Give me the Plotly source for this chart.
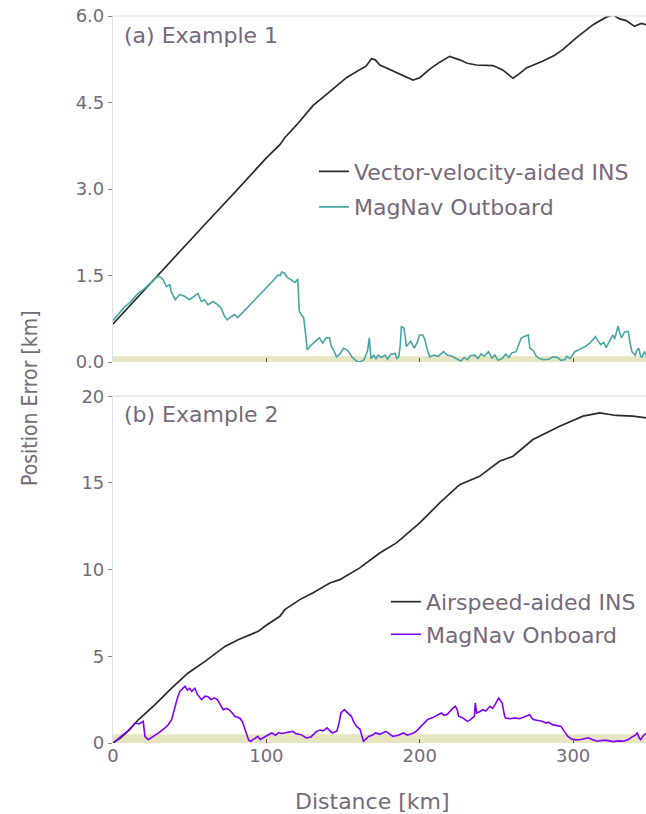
import plotly.graph_objects as go

# ---------------- data ----------------
ins1_x = [0, 20, 40, 60, 80, 100, 108.8, 112, 120, 130.5, 140, 152.2, 160.9, 165, 168.5, 171, 174,
          178.3, 187, 195.6, 200, 206.5, 213, 219.5, 226, 231, 236.9, 247.8, 254.3, 260.8, 265, 269.5,
          280.3, 288, 293.4, 302, 313, 321.6, 326, 330.3, 334.6, 340, 344.4, 347.5]
ins1_y = [0.66, 1.24, 1.81, 2.39, 2.96, 3.54, 3.77, 3.89, 4.12, 4.45, 4.66, 4.93, 5.07, 5.13, 5.26, 5.24, 5.15,
          5.10, 5.00, 4.89, 4.93, 5.08, 5.20, 5.30, 5.24, 5.18, 5.15, 5.14, 5.06, 4.92, 5.00, 5.10,
          5.22, 5.32, 5.42, 5.62, 5.85, 5.98, 6.02, 5.95, 5.92, 5.82, 5.87, 5.85]

mag1_x = [0, 1.2, 4, 7.7, 11, 16.3, 20, 24, 29.3, 31, 32.6, 34.8, 37, 38, 40.6, 43.4, 46.7, 49.9, 53.2,
          55.4, 57.6, 59.7, 61.9, 65.2, 68.4, 70.6, 72.8, 74.6, 77.2, 79.3, 81.3, 85, 90, 95, 100, 104,
          107.7, 109, 110, 111.9, 113.5, 115.3, 118.7, 120.5, 121.4, 122.7, 124.3, 125.5, 126.6, 129, 132,
          134.5, 136.7, 139, 141.2, 142.3, 144, 145.7, 148, 150.2, 152, 153.6, 156, 159.2, 161, 163.7, 166,
          167.1, 168.2, 170, 171.5, 172.7, 175, 177.3, 179, 181, 184, 185, 186.3, 187.3, 188, 189.6, 190.5,
          191.2, 194.1, 196.4, 198.5, 199.8, 202, 203.5, 204.3, 206.5, 209, 212, 215.5, 218, 221, 224,
          226.8, 229, 231, 233, 235.8, 238, 240, 242, 244.8, 247, 249, 251, 253.8, 256, 258, 260, 262.8,
          264.5, 266.2, 270.7, 271.8, 274, 276, 278, 280.9, 284, 287, 289.9, 292, 294.4, 296, 298, 301.1,
          304, 307.9, 311, 314.6, 316.5, 318, 320, 321.5, 323.6, 325.9, 327, 329.3, 330.5, 331.5, 333.5,
          336, 337, 338.3, 340.5, 341.5, 342.8, 344, 345, 346.5, 347.5]
mag1_y = [0.72, 0.76, 0.85, 0.96, 1.03, 1.19, 1.26, 1.36, 1.49, 1.47, 1.43, 1.31, 1.34, 1.22, 1.08, 1.17,
          1.14, 1.08, 1.14, 1.19, 1.05, 1.08, 0.99, 1.05, 0.99, 0.93, 0.79, 0.73, 0.79, 0.82, 0.77, 0.87,
          1.01, 1.15, 1.29, 1.40, 1.51, 1.50, 1.56, 1.54, 1.47, 1.44, 1.38, 1.44, 0.89, 0.82, 0.77, 0.50,
          0.21, 0.29, 0.36, 0.42, 0.33, 0.42, 0.42, 0.27, 0.20, 0.09, 0.14, 0.24, 0.22, 0.18, 0.08, 0.01,
          0.00, 0.04, 0.20, 0.42, 0.06, 0.12, 0.05, 0.12, 0.08, 0.12, 0.05, 0.13, 0.15, 0.06, 0.09, 0.30,
          0.62, 0.59, 0.45, 0.27, 0.36, 0.24, 0.35, 0.47, 0.47, 0.38, 0.27, 0.09, 0.12, 0.10, 0.18, 0.12,
          0.10, 0.06, 0.02, 0.08, 0.04, 0.11, 0.12, 0.06, 0.14, 0.10, 0.18, 0.07, 0.12, 0.03, 0.06, 0.14,
          0.08, 0.16, 0.18, 0.30, 0.42, 0.47, 0.24, 0.20, 0.10, 0.06, 0.04, 0.05, 0.09, 0.08, 0.03, 0.04,
          0.10, 0.06, 0.18, 0.22, 0.27, 0.33, 0.44, 0.35, 0.30, 0.34, 0.25, 0.36, 0.47, 0.40, 0.62, 0.50,
          0.42, 0.52, 0.53, 0.35, 0.18, 0.12, 0.20, 0.24, 0.10, 0.09, 0.18, 0.12]

ins2_x = [0, 5, 10, 16.5, 27.4, 38.2, 49, 60, 73, 81.6, 94.7, 99, 108.8, 112, 121.8, 130.5, 141.4, 147.9,
          160.9, 173.9, 184.8, 200, 213, 226, 239, 252, 260.8, 273.8, 291.2, 306.4, 317.3, 328, 339, 347.5]
ins2_y = [0.0, 0.3, 0.7, 1.34, 2.21, 3.17, 4.04, 4.71, 5.57, 5.96, 6.44, 6.73, 7.31, 7.69, 8.27, 8.66, 9.23,
          9.42, 10.1, 10.96, 11.54, 12.69, 13.85, 14.9, 15.38, 16.25, 16.54, 17.5, 18.27, 18.85, 19.04,
          18.89, 18.85, 18.75]

mag2_x = [0, 3, 6, 9, 12, 14.3, 17, 19.7, 20.3, 20.8, 23, 25, 27.4, 30, 33.9, 36, 38.2, 40.4, 42, 43.6, 45,
          46.9, 48.5, 50, 51.3, 53.4, 55, 57.8, 60, 62, 64, 66, 68, 69.7, 71.9, 74, 76, 78, 79.5, 81, 83,
          84.5, 86, 88.5, 89.8, 92, 94.4, 96, 98, 100, 103.4, 106, 108, 110, 113, 117, 119, 122.6, 126,
          129, 132.8, 135, 137, 139.5, 142.9, 146, 147.5, 148.6, 150.8, 153, 155.4, 157, 158.8, 161, 162.3,
          163.3, 166.7, 169, 171.2, 174, 177.9, 180, 182.5, 186, 189.3, 192, 196, 198, 200, 203, 205, 208,
          211, 214.1, 216, 218, 221, 223.2, 224.5, 225.4, 228, 231, 233, 235.6, 236.2, 237.1, 239, 241.2,
          243, 245.8, 247.5, 249, 251.4, 253, 253.7, 255.2, 255.9, 259, 262, 265, 268, 271.7, 273, 274,
          277, 279.7, 282.5, 284, 286.4, 289, 292.1, 294, 296.6, 298.9, 302, 305, 308, 310, 313, 315.8,
          319, 322, 326, 330, 333, 336, 338.4, 340.5, 341.8, 343, 344, 346, 347.5]
mag2_y = [0.0, 0.2, 0.45, 0.65, 0.9, 1.15, 1.1, 1.25, 0.8, 0.38, 0.19, 0.3, 0.48, 0.6, 0.87, 1.05, 1.34,
          2.11, 2.6, 2.98, 3.1, 3.27, 3.05, 3.15, 2.98, 3.15, 2.8, 2.5, 2.7, 2.67, 2.5, 2.6, 2.5, 2.21, 1.92,
          2.0, 1.9, 1.7, 1.53, 1.5, 1.4, 1.2, 0.8, 0.15, 0.1, 0.25, 0.38, 0.2, 0.3, 0.4, 0.58, 0.45, 0.6,
          0.55, 0.62, 0.67, 0.55, 0.48, 0.29, 0.35, 0.67, 0.75, 0.7, 0.87, 0.58, 0.7, 1.2, 1.73, 1.92, 1.75,
          1.54, 1.2, 0.96, 0.8, 0.4, 0.1, 0.38, 0.45, 0.58, 0.5, 0.67, 0.55, 0.38, 0.45, 0.58, 0.45, 0.58,
          0.7, 0.9, 1.15, 1.35, 1.45, 1.6, 1.73, 1.6, 1.65, 1.95, 2.12, 1.9, 1.54, 1.45, 1.25, 1.35, 1.54,
          2.31, 1.73, 1.8, 1.92, 1.85, 2.12, 2.0, 2.2, 2.6, 2.4, 2.31, 1.6, 1.44, 1.4, 1.45, 1.4, 1.5, 1.63,
          1.45, 1.35, 1.3, 1.25, 1.15, 1.2, 1.06, 1.0, 0.96, 0.7, 0.38, 0.23, 0.18, 0.2, 0.28, 0.3, 0.18,
          0.1, 0.15, 0.15, 0.08, 0.12, 0.1, 0.2, 0.35, 0.45, 0.58, 0.3, 0.19, 0.45, 0.55]

band_top = [0.1, 0.5]          # shaded accuracy band height in each panel [km]
x_ticks = [0, 100, 200, 300]
y1_ticks = [0, 1.5, 3, 4.5, 6]
y1_text = ["0.0", "1.5", "3.0", "4.5", "6.0"]
y2_ticks = [0, 5, 10, 15, 20]
x_range = [0, 347.5]

# ---------------- styling ----------------
TXT = "#76697d"
FONT = "DejaVu Sans"
BLACK = "#2b2b2b"
TEAL = "#48a6a6"
PURPLE = "#7f00ff"
BAND = "#e7e5bf"
SPINE = "#dbe1eb"

fig = go.Figure()
fig.add_trace(go.Scatter(x=ins1_x, y=ins1_y, mode="lines", name="Vector-velocity-aided INS",
                         line=dict(color=BLACK, width=1.7), xaxis="x", yaxis="y", legend="legend",
                         legendgroup="a1"))
fig.add_trace(go.Scatter(x=mag1_x, y=mag1_y, mode="lines", name="MagNav Outboard",
                         line=dict(color=TEAL, width=1.6), xaxis="x", yaxis="y", legend="legend",
                         legendgroup="a2"))
fig.add_trace(go.Scatter(x=ins2_x, y=ins2_y, mode="lines", name="Airspeed-aided INS",
                         line=dict(color=BLACK, width=1.7), xaxis="x2", yaxis="y2", legend="legend2",
                         legendgroup="b1"))
fig.add_trace(go.Scatter(x=mag2_x, y=mag2_y, mode="lines", name="MagNav Onboard",
                         line=dict(color=PURPLE, width=1.6), xaxis="x2", yaxis="y2", legend="legend2",
                         legendgroup="b2"))

shapes = []
for yref, top in (("y", band_top[0]), ("y2", band_top[1])):
    shapes.append(dict(type="rect", xref="x domain" if yref == "y" else "x2 domain", yref=yref,
                       x0=0, x1=1, y0=0, y1=top, fillcolor=BAND, line=dict(width=0), layer="below"))
for yd in ("y domain", "y2 domain"):
    shapes.append(dict(type="line", xref="paper", yref=yd, x0=0, x1=1, y0=1, y1=1,
                       line=dict(color=SPINE, width=1.2)))

axis_common = dict(showgrid=False, zeroline=False)
fig.update_layout(
    width=646, height=814, autosize=False,
    margin=dict(l=113, r=0, t=16, b=71),
    paper_bgcolor="white", plot_bgcolor="white",
    font=dict(family=FONT, color=TXT, size=18),
    xaxis=dict(domain=[0, 1], anchor="y", range=x_range, tickvals=x_ticks, showticklabels=False,
               ticks="inside", ticklen=4, tickcolor="#555555", showline=False, **axis_common),
    xaxis2=dict(domain=[0, 1], anchor="y2", range=x_range, tickvals=x_ticks,
                ticks="inside", ticklen=4, tickcolor="#555555", showline=False,
                tickfont=dict(size=18, color=TXT, family=FONT), **axis_common),
    yaxis=dict(domain=[0.524, 1], anchor="x", range=[0, 6], tickvals=y1_ticks, ticktext=y1_text,
               ticks="outside", ticklen=4, tickcolor="#8a8a8a", showline=True, linecolor=SPINE,
               linewidth=1.2, tickfont=dict(size=18, color=TXT, family=FONT), **axis_common),
    yaxis2=dict(domain=[0, 0.477], anchor="x2", range=[0, 20], tickvals=y2_ticks,
                ticks="outside", ticklen=4, tickcolor="#8a8a8a", showline=True, linecolor=SPINE,
                linewidth=1.2, tickfont=dict(size=18, color=TXT, family=FONT), **axis_common),
    legend=dict(x=0.377, y=0.815, xanchor="left", yanchor="top", bgcolor="rgba(0,0,0,0)",
                font=dict(size=22, color=TXT, family=FONT), tracegroupgap=4),
    legend2=dict(x=0.512, y=0.223, xanchor="left", yanchor="top", bgcolor="rgba(0,0,0,0)",
                 font=dict(size=22, color=TXT, family=FONT), tracegroupgap=1),
    shapes=shapes,
    annotations=[
        dict(text="(a) Example 1", xref="paper", yref="paper", x=0.017, y=0.9725,
             xanchor="left", yanchor="middle", showarrow=False, font=dict(size=22, color=TXT, family=FONT)),
        dict(text="(b) Example 2", xref="paper", yref="paper", x=0.017, y=0.4525,
             xanchor="left", yanchor="middle", showarrow=False, font=dict(size=22, color=TXT, family=FONT)),
        dict(text="Distance [km]", xref="paper", yref="paper", x=(372 - 113) / 533, y=-0.08,
             xanchor="center", yanchor="middle", showarrow=False, font=dict(size=22, color=TXT, family=FONT)),
        dict(text="Position Error [km]", xref="paper", yref="paper", x=(30 - 113) / 533, y=(743 - 398) / 727,
             xanchor="center", yanchor="middle", textangle=-90, showarrow=False,
             font=dict(size=21, color=TXT, family="Liberation Sans Narrow, DejaVu Sans Condensed, Roboto Condensed, sans-serif")),
    ],
)

fig.write_html("out.html")
